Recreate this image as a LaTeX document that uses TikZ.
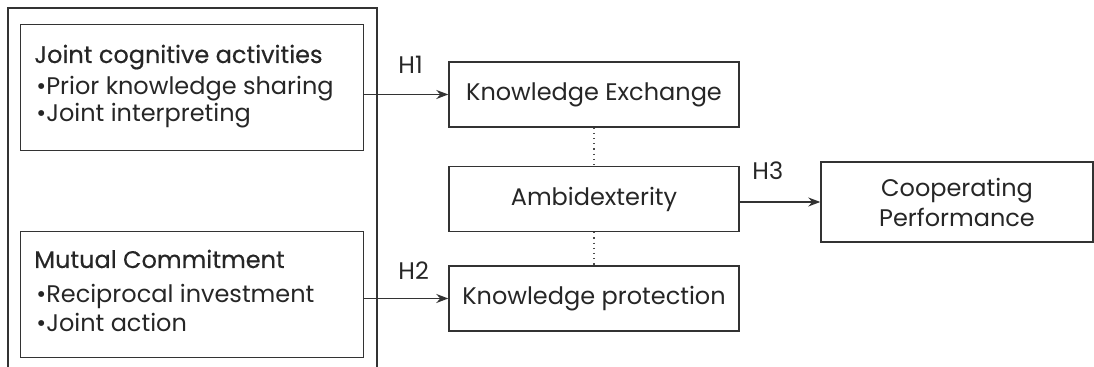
\documentclass[tikz,border=0pt]{standalone}
\usepackage{fontspec}
\setmainfont{Poppins}
\newfontfamily\titlefont[FakeBold=0.4]{Poppins}
\usetikzlibrary{arrows.meta,positioning}

\tikzset{
  frame/.style={draw=black!80,line width=0.7pt},
  box/.style={frame,minimum width=145pt,minimum height=32.5pt,inner sep=0pt,
    align=center,text=black!85,font=\fontsize{12}{15}\selectfont},
  group/.style={frame,minimum width=171.5pt,minimum height=63pt,inner sep=0pt,anchor=north west},
  item/.style={anchor=base west,inner sep=0pt,text=black!85,font=\fontsize{12}{14}\selectfont},
  title/.style={item,font=\fontsize{12}{14}\titlefont},
  hyp/.style={item}
}

\begin{document}
\begin{tikzpicture}[x=0.5pt,y=-0.5pt,>={Stealth[length=6pt,width=4.5pt]}]
\useasboundingbox (0,0) rectangle (1094,367);

% outer frame, open at the bottom
\draw[frame] (8,367) -- (8,8) -- (377,8) -- (377,367);

% antecedents
\node[group] (G1) at (20,24) {};
\node[title] (T1) at (34,63) {Joint cognitive activities};
\node[item] (T1a) at (36,95) {•Prior knowledge sharing};
\node[item] (T1b) at (36,122) {•Joint interpreting};

\node[group] (G2) at (20,231) {};
\node[title] (T2) at (34,268) {Mutual Commitment};
\node[item] (T2a) at (36,303) {•Reciprocal investment};
\node[item] (T2b) at (36,332) {•Joint action};

% mediators and outcome
\node[box] (KE) at (594,94.5) {Knowledge Exchange};
\node[box] (AMB) at (594,199) {Ambidexterity};
\node[box] (KP) at (594,298.5) {Knowledge protection};
\node[box,minimum width=136pt,minimum height=40pt] (CP) at (957,202) {Cooperating\\Performance};

\node[hyp] (H1) at (398,74) {H1};
\node[hyp] (H2) at (398,280) {H2};
\node[hyp] (H3) at (752,180) {H3};

\path (G1.east |- KE) edge[->,frame] (KE);
\path (G2.east |- KP) edge[->,frame] (KP);
\path (AMB.east |- CP) edge[->,frame] (CP);
\path (KE) edge[dotted,draw=black!70,line width=0.6pt] (AMB)
      (AMB) edge[dotted,draw=black!70,line width=0.6pt] (KP);
\end{tikzpicture}
\end{document}
